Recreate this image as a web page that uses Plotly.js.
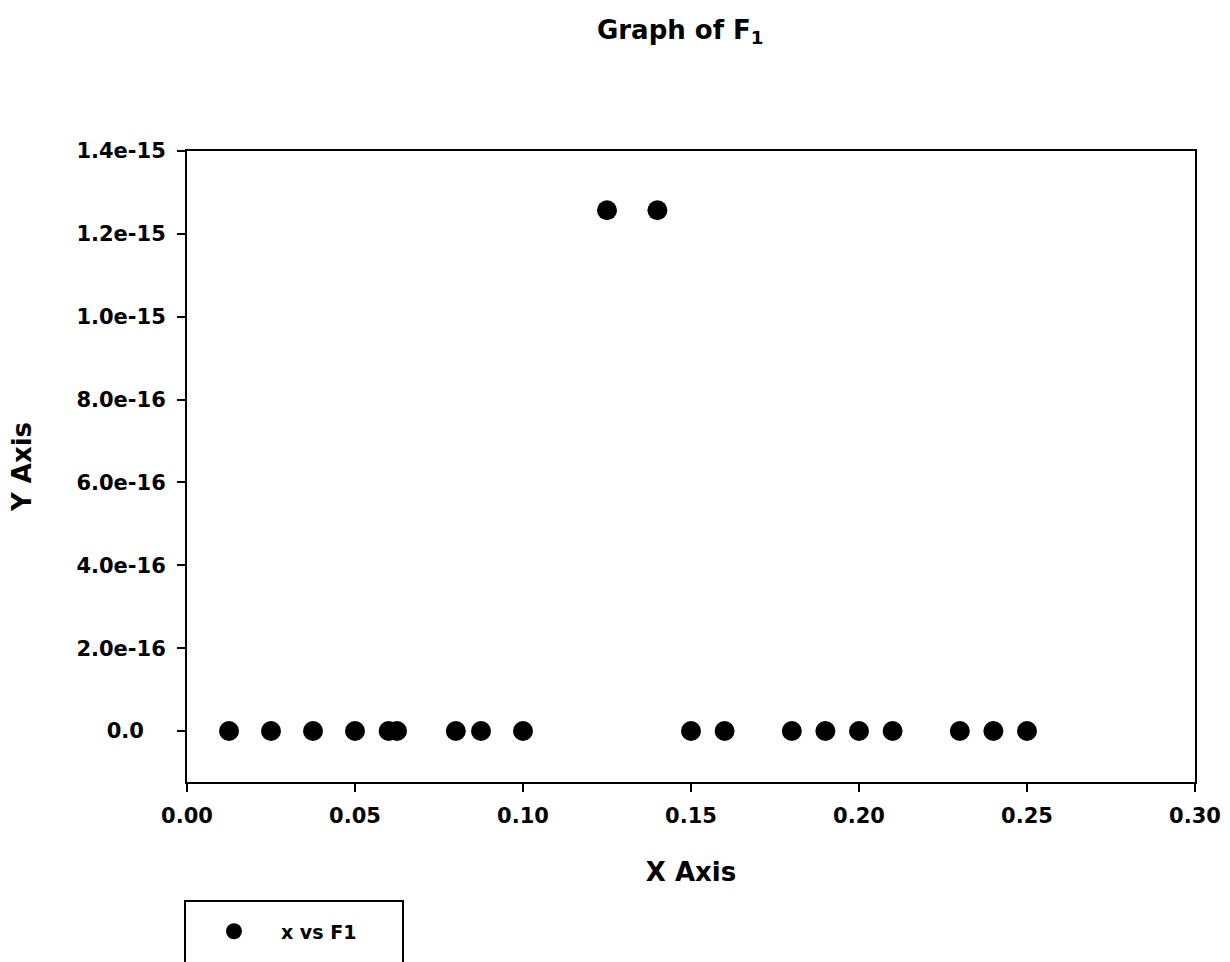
<!DOCTYPE html>
<html>
<head>
<meta charset="utf-8">
<script src="https://cdn.plot.ly/plotly-3.0.1.min.js"></script>
<style>html,body{margin:0;padding:0;background:#fff;}</style>
</head>
<body>
<div id="chart" style="width:1230px;height:962px;"></div>
<script>
// Data
const xValues = [0.0125, 0.025, 0.0375, 0.05, 0.06, 0.0625, 0.08, 0.0875, 0.10,
                 0.125, 0.14, 0.15, 0.16, 0.18, 0.19, 0.20, 0.21, 0.23, 0.24, 0.25];
const f1Values = [0, 0, 0, 0, 0, 0, 0, 0, 0,
                  1.257e-15, 1.257e-15, 0, 0, 0, 0, 0, 0, 0, 0, 0];
const yTickValues = [0, 2e-16, 4e-16, 6e-16, 8e-16, 1.0e-15, 1.2e-15, 1.4e-15];
const yTickLabels = ["0.0\u00A0\u00A0\u00A0", "2.0e-16", "4.0e-16", "6.0e-16", "8.0e-16", "1.0e-15", "1.2e-15", "1.4e-15"];
const xTickValues = [0, 0.05, 0.10, 0.15, 0.20, 0.25, 0.30];
const seriesName = "x vs F1";

const FONT = "DejaVu Sans, Verdana, sans-serif";
const NB = "\u00A0";

const trace = {
  x: xValues,
  y: f1Values,
  type: "scatter",
  mode: "markers",
  name: seriesName + NB.repeat(6) + "<br>" + NB + "<br>" + NB,
  marker: {color: "#000000", size: 20, symbol: "circle"},
  showlegend: true
};

const layout = {
  width: 1230,
  height: 962,
  paper_bgcolor: "#ffffff",
  plot_bgcolor: "#ffffff",
  margin: {l: 187, r: 35, t: 151, b: 180, autoexpand: false},
  font: {family: FONT, color: "#000000", size: 21, weight: "bold"},
  title: {
    text: "Graph of F<sub>1</sub>",
    font: {family: FONT, size: 26, weight: "bold", color: "#000"},
    x: 0.553, xanchor: "center",
    y: 0.969, yanchor: "middle"
  },
  xaxis: {
    range: [0, 0.30],
    tickvals: xTickValues,
    tickformat: ".2f",
    ticks: "outside", ticklen: 8, tickwidth: 2, tickcolor: "#000",
    showline: true, linewidth: 2, linecolor: "#000", mirror: true,
    showgrid: false, zeroline: false,
    tickfont: {family: FONT, size: 21, weight: "bold"},
    ticklabelstandoff: 6,
    title: {text: "X Axis", font: {family: FONT, size: 26, weight: "bold"}, standoff: 36},
    automargin: false
  },
  yaxis: {
    range: [-1.23e-16, 1.4e-15],
    tickvals: yTickValues,
    ticktext: yTickLabels,
    ticks: "outside", ticklen: 8, tickwidth: 2, tickcolor: "#000",
    showline: true, linewidth: 2, linecolor: "#000", mirror: true,
    showgrid: false, zeroline: false,
    tickfont: {family: FONT, size: 21, weight: "bold"},
    ticklabelstandoff: 7,
    title: {text: "Y Axis", font: {family: FONT, size: 26, weight: "bold"}, standoff: 37},
    automargin: false
  },
  showlegend: true,
  legend: {
    x: -0.003, xanchor: "left",
    y: -0.187, yanchor: "top",
    bordercolor: "#000", borderwidth: 2,
    bgcolor: "#ffffff",
    font: {family: FONT, size: 19, weight: "bold"},
    title: {text: NB, font: {family: FONT, size: 8}},
    valign: "top",
    indentation: 1,
    itemwidth: 84
  }
};

Plotly.newPlot("chart", [trace], layout, {displayModeBar: false, staticPlot: true});
</script>
</body>
</html>
